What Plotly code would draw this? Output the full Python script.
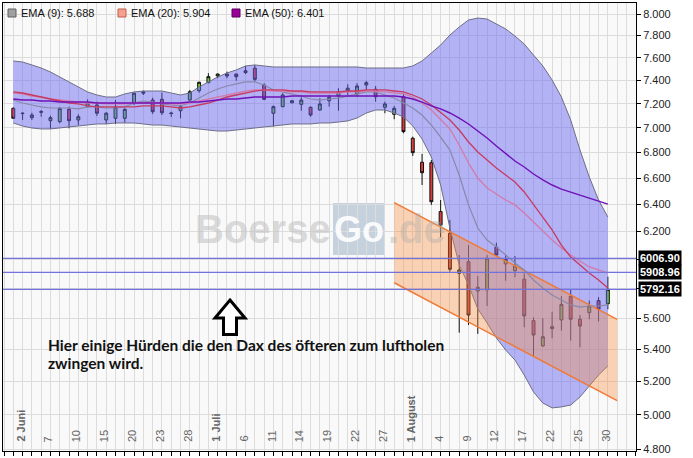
import math
import plotly.graph_objects as go

# ---------------- data (DAX daily, 1 Jun 2011 .. 30 Aug 2011, index 0..64) ----------------
days = list(range(65))

opens = [7162, 7118, 7084, 7129, 7059, 7051, 7154, 7065, 7176, 7190,
         7065, 7079, 7079, 7209, 7290, 7232, 7238, 7123, 7142, 7232,
         7312, 7381, 7439, 7456, 7456, 7468, 7507, 7361, 7121, 7176,
         7209, 7196, 7171, 7148, 7226, 7269, 7312, 7284, 7361, 7324,
         7171, 7112, 7260, 6915, 6723, 6720, 6345, 6186, 5902, 5983,
         5781, 5788, 6085, 5967, 5920, 5861, 5583, 5420, 5531, 5588,
         5743, 5592, 5636, 5716, 5695]
highs = [7171, 7125, 7125, 7148, 7101, 7171, 7176, 7112, 7238, 7218,
         7131, 7232, 7162, 7295, 7312, 7252, 7295, 7134, 7190, 7318,
         7390, 7463, 7460, 7477, 7460, 7527, 7536, 7376, 7186, 7290,
         7232, 7255, 7176, 7247, 7275, 7333, 7367, 7376, 7396, 7352,
         7218, 7182, 7290, 6928, 6789, 6741, 6432, 6283, 6030, 6101,
         5884, 6030, 6118, 6030, 6023, 5902, 5605, 5599, 5642, 5747,
         5788, 5620, 5716, 5739, 5879]
lows = [7073, 7065, 7065, 7092, 6991, 7038, 6996, 7024, 7171, 7098,
        7032, 7032, 7043, 7190, 7275, 7115, 7106, 7090, 7079, 7226,
        7295, 7376, 7419, 7419, 7398, 7456, 7390, 7232, 7010, 7171,
        7204, 7142, 7092, 7142, 7176, 7142, 7275, 7260, 7312, 7218,
        7121, 7071, 6956, 6773, 6546, 6395, 6157, 5913, 5505, 5555,
        5497, 5680, 6023, 5851, 5875, 5540, 5357, 5415, 5469, 5518,
        5454, 5411, 5592, 5577, 5658]
closes = [7079, 7121, 7106, 7134, 7084, 7162, 7059, 7092, 7209, 7121,
          7121, 7171, 7154, 7290, 7301, 7134, 7125, 7119, 7176, 7303,
          7384, 7433, 7456, 7439, 7433, 7485, 7410, 7238, 7176, 7275,
          7226, 7232, 7106, 7199, 7255, 7301, 7333, 7352, 7381, 7260,
          7199, 7162, 6969, 6799, 6641, 6419, 6246, 5930, 5925, 5620,
          5806, 6007, 6030, 6000, 5953, 5614, 5490, 5479, 5544, 5691,
          5592, 5548, 5680, 5658, 5792]

band_upper = [7571, 7562, 7536, 7509, 7474, 7430, 7387, 7344, 7301, 7275,
              7258, 7258, 7284, 7301, 7309, 7309, 7309, 7292, 7275, 7292,
              7344, 7387, 7430, 7465, 7492, 7527, 7536, 7527, 7518, 7518,
              7518, 7518, 7518, 7518, 7518, 7518, 7518, 7518, 7509, 7509,
              7509, 7509, 7509, 7527, 7571, 7642, 7714, 7805, 7879, 7944,
              7962, 7953, 7907, 7861, 7796, 7723, 7624, 7527, 7404, 7258,
              7065, 6821, 6608, 6432, 6305]
band_lower = [7040, 7015, 6999, 6991, 6991, 6999, 7007, 7015, 7023, 7032,
              7032, 7040, 7040, 7040, 7032, 7023, 7023, 7015, 7007, 6999,
              6991, 6982, 6974, 6974, 6982, 6991, 6999, 7007, 7015, 7023,
              7032, 7032, 7032, 7040, 7040, 7048, 7057, 7081, 7123, 7148,
              7148, 7123, 7090, 7015, 6909, 6765, 6546, 6224, 5960, 5822,
              5660, 5568, 5471, 5394, 5331, 5238, 5135, 5069, 5040, 5046,
              5057, 5105, 5171, 5238, 5294]

ema9 = [7232, 7207, 7190, 7174, 7165, 7165, 7165, 7157, 7174, 7174,
        7165, 7165, 7174, 7207, 7224, 7215, 7199, 7190, 7182, 7207,
        7249, 7292, 7326, 7352, 7370, 7387, 7387, 7361, 7318, 7301,
        7284, 7266, 7241, 7232, 7241, 7249, 7266, 7284, 7301, 7301,
        7275, 7249, 7207, 7165, 7106, 7023, 6925, 6820, 6623, 6395,
        6224, 6137, 6087, 6030, 5974, 5925, 5856, 5801, 5754, 5720,
        5687, 5673, 5680, 5680, 5688]
ema20 = [7292, 7284, 7266, 7258, 7241, 7232, 7224, 7215, 7207, 7207,
         7199, 7199, 7199, 7207, 7207, 7207, 7207, 7199, 7199, 7207,
         7224, 7241, 7258, 7275, 7292, 7309, 7318, 7318, 7309, 7309,
         7301, 7301, 7292, 7292, 7292, 7292, 7301, 7301, 7309, 7309,
         7301, 7292, 7284, 7258, 7207, 7148, 7073, 6991, 6861, 6717,
         6600, 6523, 6477, 6432, 6395, 6335, 6268, 6202, 6137, 6080,
         6030, 5988, 5946, 5925, 5904]
ema50 = [7241, 7232, 7232, 7224, 7224, 7215, 7215, 7215, 7215, 7207,
         7207, 7207, 7207, 7207, 7207, 7207, 7207, 7207, 7207, 7215,
         7215, 7224, 7232, 7241, 7241, 7249, 7258, 7258, 7258, 7258,
         7266, 7266, 7266, 7266, 7266, 7266, 7266, 7266, 7266, 7266,
         7266, 7266, 7258, 7241, 7215, 7182, 7157, 7123, 7081, 7032,
         6974, 6917, 6853, 6789, 6733, 6686, 6631, 6585, 6546, 6515,
         6493, 6470, 6447, 6425, 6401]
mid_line = [7301, 7292, 7275, 7258, 7241, 7224, 7207, 7199, 7182, 7174,
            7174, 7174, 7174, 7174, 7182, 7182, 7182, 7174, 7165, 7174,
            7190, 7207, 7232, 7258, 7275, 7292, 7309, 7318, 7318, 7318,
            7309, 7309, 7301, 7301, 7301, 7301, 7309, 7309, 7318, 7318,
            7318, 7309, 7301, 7275, 7241, 7190, 7131, 7065, 6982, 6885,
            6805, 6741, 6678, 6623, 6569, 6493, 6395, 6305, 6210, 6101,
            6016, 5960, 5904, 5856, 5801]

channel_x = [41, 65]
channel_upper = [6412, 5592]
channel_lower = [5837, 5083]

levels = [5908.96, 6006.90, 5792.16]

tick_idx = list(range(1, 65, 3))
tick_labels = ["2 Juni", "7", "10", "15", "20", "23", "28", "1 Juli", "6", "11", "14",
               "19", "22", "27", "1 August", "4", "9", "12", "17", "22", "25", "30"]

y_ticks = [4800, 5000, 5200, 5400, 5600, 5800, 6000, 6200, 6400, 6600, 6800,
           7000, 7200, 7400, 7600, 7800, 8000]
y_hidden = [5800, 6000]

ema_names = ["EMA (9)", "EMA (20)", "EMA (50)"]
ema_last = [5688, 5904, 6401]

note_lines = ["Hier einige Hürden die den Dax des öfteren zum luftholen", "zwingen wird."]

# ---------------- layout helpers ----------------
W, H = 693, 458
ML, MR, MT, MB = 3, 57, 3, 7
PW, PH = W - ML - MR, H - MT - MB


def px(x):
    return (x - ML) / PW


def py(y):
    return 1 - (y - MT) / PH


def de(v):
    return f"{v:,.0f}".replace(",", ".")


def de_val(v):
    return f"{v/1000:.3f}"


FONT = "Arial, Liberation Sans, sans-serif"

fig = go.Figure()

# Bollinger-like band
fig.add_trace(go.Scatter(x=days, y=band_lower, mode="lines",
                         line=dict(color="#6e6e88", width=1), hoverinfo="skip", showlegend=False))
fig.add_trace(go.Scatter(x=days, y=band_upper, mode="lines", fill="tonexty",
                         fillcolor="rgba(100,100,240,0.48)",
                         line=dict(color="#6e6e88", width=1), hoverinfo="skip", showlegend=False))

# orange trend channel
fig.add_trace(go.Scatter(x=channel_x + channel_x[::-1] + channel_x[:1],
                         y=channel_upper + channel_lower[::-1] + channel_upper[:1],
                         mode="lines", fill="toself", fillcolor="rgba(250,140,60,0.36)",
                         line=dict(width=0), hoverinfo="skip", showlegend=False))
for ys in (channel_upper, channel_lower):
    fig.add_trace(go.Scatter(x=channel_x, y=ys, mode="lines",
                             line=dict(color="#f07a35", width=1.5), hoverinfo="skip", showlegend=False))

# moving averages
fig.add_trace(go.Scatter(x=days, y=ema9, mode="lines", line=dict(color="#8888aa", width=1.2),
                         hoverinfo="skip", showlegend=False))
fig.add_trace(go.Scatter(x=days, y=ema20, mode="lines", line=dict(color="#d47aa8", width=1.3),
                         hoverinfo="skip", showlegend=False))
fig.add_trace(go.Scatter(x=days, y=mid_line, mode="lines", line=dict(color="#c83a62", width=1.3),
                         hoverinfo="skip", showlegend=False))
fig.add_trace(go.Scatter(x=days, y=ema50, mode="lines", line=dict(color="#7010b8", width=1.4),
                         hoverinfo="skip", showlegend=False))

# horizontal hurdle lines
x_lo, x_hi = -1.109, 67.03
for lv in levels:
    fig.add_trace(go.Scatter(x=[x_lo, x_hi], y=[lv, lv], mode="lines",
                             line=dict(color="#7272dc", width=1.2), hoverinfo="skip", showlegend=False))

# candles
fig.add_trace(go.Candlestick(
    x=days, open=opens, high=highs, low=lows, close=closes,
    increasing=dict(line=dict(color="#111111", width=1), fillcolor="#6cc83c"),
    decreasing=dict(line=dict(color="#111111", width=1), fillcolor="#d83c3c"),
    whiskerwidth=0, hoverinfo="skip", showlegend=False))

annotations = []
shapes = []

# date labels (rotated, inside bottom)
for i, lab in zip(tick_idx, tick_labels):
    bold = any(c.isalpha() for c in lab)
    annotations.append(dict(
        x=i, y=py(444), xref="x", yref="paper", xanchor="center", yanchor="bottom",
        text=f"<b>{lab}</b>" if bold else lab, textangle=-90, showarrow=False, xshift=-2,
        font=dict(family=FONT, size=11, color="#666666")))

# legend
sq_x = [8, 118, 232]
sq_fill = ["#a0a0a0", "#f6a08e", "#990099"]
sq_line = ["#606060", "#c06050", "#5a005a"]
for k in range(3):
    shapes.append(dict(type="rect", xref="paper", yref="paper",
                       x0=px(sq_x[k]), x1=px(sq_x[k] + 8), y0=py(17), y1=py(9),
                       fillcolor=sq_fill[k], line=dict(color=sq_line[k], width=1)))
    annotations.append(dict(x=px(sq_x[k] + 11), y=py(13), xref="paper", yref="paper",
                            xanchor="left", yanchor="middle", showarrow=False,
                            text=f"{ema_names[k]}: {de_val(ema_last[k])}",
                            font=dict(family=FONT, size=11, color="#111111")))

# watermark
shapes.append(dict(type="rect", xref="paper", yref="paper", layer="below",
                   x0=px(333), x1=px(385), y0=py(255), y1=py(203),
                   fillcolor="#c6d1de", line=dict(width=0)))
annotations.append(dict(x=px(333), y=py(229), xref="paper", yref="paper", xanchor="right",
                        yanchor="middle", showarrow=False, text="<b>Boerse</b>",
                        font=dict(family=FONT, size=40, color="rgba(196,196,196,0.62)")))
annotations.append(dict(x=px(359), y=py(229), xref="paper", yref="paper", xanchor="center",
                        yanchor="middle", showarrow=False, text="<b>Go</b>",
                        font=dict(family=FONT, size=36, color="rgba(255,255,255,0.92)")))
annotations.append(dict(x=px(386), y=py(229), xref="paper", yref="paper", xanchor="left",
                        yanchor="middle", showarrow=False, text="<b>.de</b>",
                        font=dict(family=FONT, size=40, color="rgba(170,170,170,0.4)")))

# hurdle price boxes
for lv in levels:
    annotations.append(dict(x=1, y=math.log10(lv), xref="paper", yref="y", xanchor="left",
                            yanchor="middle", xshift=2, showarrow=False, text=f"<b>{lv:.2f}</b>",
                            bgcolor="#000000", borderpad=1,
                            font=dict(family=FONT, size=11, color="#ffffff")))

# note text (two lines)
for line_txt, yy in zip(note_lines, [345, 363]):
    annotations.append(dict(x=px(46), y=py(yy), xref="paper", yref="paper", xanchor="left",
                            yanchor="middle", align="left", showarrow=False,
                            text=f"<b>{line_txt}</b>",
                            font=dict(family="Lato, Open Sans, sans-serif", size=15.5,
                                      color="#111111")))

# hollow up arrow
pts = [(230, 300), (245, 318), (236.5, 318), (236.5, 334.5), (223.5, 334.5), (223.5, 318), (215, 318)]
path = "M " + " L ".join(f"{px(a):.5f},{py(b):.5f}" for a, b in pts) + " Z"
shapes.append(dict(type="path", xref="paper", yref="paper", path=path,
                   fillcolor="#ffffff", line=dict(color="#000000", width=3)))

fig.update_layout(
    width=W, height=H, margin=dict(l=ML, r=MR, t=MT, b=MB),
    paper_bgcolor="#ffffff", plot_bgcolor="#f9f9f9",
    showlegend=False, hovermode=False, boxgap=0.55,
    annotations=annotations, shapes=shapes,
    xaxis=dict(range=[x_lo, x_hi], tickmode="linear", tick0=0, dtick=1,
               showticklabels=False, ticks="outside", ticklen=4, tickcolor="#000000",
               showgrid=True, gridcolor="#dcdcdc", gridwidth=1, zeroline=False,
               showline=True, linecolor="#000000", linewidth=1, mirror=True,
               rangeslider=dict(visible=False)),
    yaxis=dict(type="log", range=[math.log10(4791.6), math.log10(8103.9)], side="right",
               tickmode="array", tickvals=y_ticks,
               ticktext=["" if v in y_hidden else de(v) for v in y_ticks],
               ticks="outside", ticklen=4, tickcolor="#000000",
               tickfont=dict(family=FONT, size=11, color="#222222"),
               showgrid=True, gridcolor="#dcdcdc", gridwidth=1, zeroline=False,
               showline=True, linecolor="#000000", linewidth=1, mirror=True),
)

fig.write_html("out.html", config={"displayModeBar": False},
               post_script="document.body.style.margin='0px';")
